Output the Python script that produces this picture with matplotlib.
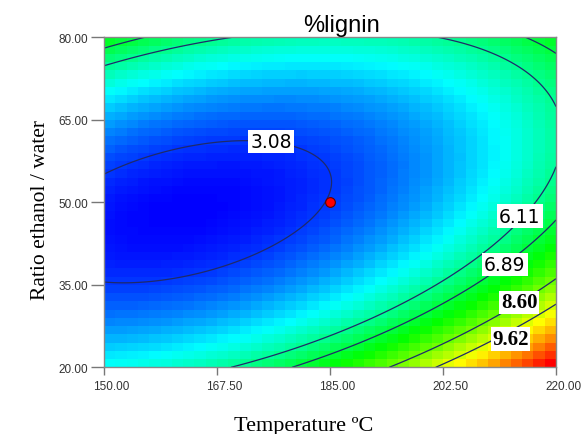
import numpy as np
import matplotlib
matplotlib.use("Agg")
import matplotlib.pyplot as plt
import matplotlib.transforms as mtrans
from matplotlib.colors import LinearSegmentedColormap

# factor ranges
temp_range = [150.0, 220.0]
ratio_range = [20.0, 80.0]
x_ticks = [150.0, 167.5, 185.0, 202.5, 220.0]
y_ticks = [20.0, 35.0, 50.0, 65.0, 80.0]

# quadratic model in coded units: b0, A, B, AB, A^2, B^2
coefs = [3.12, 1.88, -0.85, -1.95, 1.55, 3.52]

levels = [3.08, 6.11, 6.89, 8.60, 9.62]
label_text = ["3.08", "6.11", "6.89", "8.60", "9.62"]
label_pos = [(175.9, 61.05), (214.35, 47.5), (212.1, 38.7), (214.3, 31.8), (212.95, 25.15)]
label_serif = [False, False, False, True, True]

design_pt = (185.0, 50.0)


def model(T, R):
    A = (T - 185.0) / 35.0
    B = (R - 50.0) / 30.0
    b0, b1, b2, b12, b11, b22 = coefs
    return b0 + b1*A + b2*B + b12*A*B + b11*A**2 + b22*B**2


cmap = LinearSegmentedColormap.from_list(
    "de", ["#0000ff", "#00ffff", "#00ff00", "#ffff00", "#ff0000"])

W, H = 582, 435
fig = plt.figure(figsize=(W/100, H/100), dpi=100)
ax = fig.add_axes([104/W, 1 - 368.3/H, 452/W, 330/H])

# coarse colour grid like the original
n = 40
te = np.linspace(temp_range[0], temp_range[1], n + 1)
re = np.linspace(ratio_range[0], ratio_range[1], n + 1)
tc = 0.5 * (te[:-1] + te[1:])
rc = 0.5 * (re[:-1] + re[1:])
TC, RC = np.meshgrid(tc, rc)
ax.pcolormesh(te, re, model(TC, RC), cmap=cmap, shading="flat")

# smooth contour lines
tf = np.linspace(temp_range[0], temp_range[1], 300)
rf = np.linspace(ratio_range[0], ratio_range[1], 300)
TF, RF = np.meshgrid(tf, rf)
ax.contour(TF, RF, model(TF, RF), levels=levels, colors="#1f2a6a", linewidths=0.9)

for txt, (x, y), serif in zip(label_text, label_pos, label_serif):
    if serif:
        ax.text(x, y, txt, ha="center", va="center", fontsize=15,
                family="Liberation Serif", weight="bold",
                bbox=dict(boxstyle="square,pad=0.08", fc="white", ec="none"))
    else:
        ax.text(x, y, txt, ha="center", va="center", fontsize=13.5,
                family="DejaVu Sans",
                bbox=dict(boxstyle="square,pad=0.12", fc="white", ec="none"))

ax.plot(design_pt[0], design_pt[1], "o", color="red", markeredgecolor="#600000",
        markersize=7, markeredgewidth=0.8)

ax.set_xlim(temp_range)
ax.set_ylim(ratio_range)
ax.set_xticks(x_ticks)
ax.set_yticks(y_ticks)
ax.set_xticklabels(["%.2f" % v for v in x_ticks], family="Liberation Sans", fontsize=8.5, color="#333333")
ax.set_yticklabels(["%.2f" % v for v in y_ticks], family="Liberation Sans", fontsize=8.5, color="#333333")
ax.tick_params(axis="x", length=6, width=1, color="#777777", pad=3)
ax.tick_params(axis="y", length=9.5, width=1, color="#777777", pad=2)
shift = mtrans.ScaledTranslation(7/100, 0, fig.dpi_scale_trans)
for lab in ax.get_xticklabels():
    lab.set_transform(lab.get_transform() + shift)
for s in ax.spines.values():
    s.set_color("#888888")
    s.set_linewidth(1)

fig.text(341/W, 1 - 31.7/H, "%lignin", family="Liberation Sans", fontsize=17,
         ha="center", va="baseline")
fig.text(304/W, 1 - 431/H, "Temperature \u00baC", family="Liberation Serif", fontsize=16,
         ha="center", va="baseline")
fig.text(41/W, 1 - 210/H, "Ratio ethanol / water", family="Liberation Serif", fontsize=15.5,
         ha="center", va="center", rotation=90)

fig.savefig("out.png", dpi=100)
